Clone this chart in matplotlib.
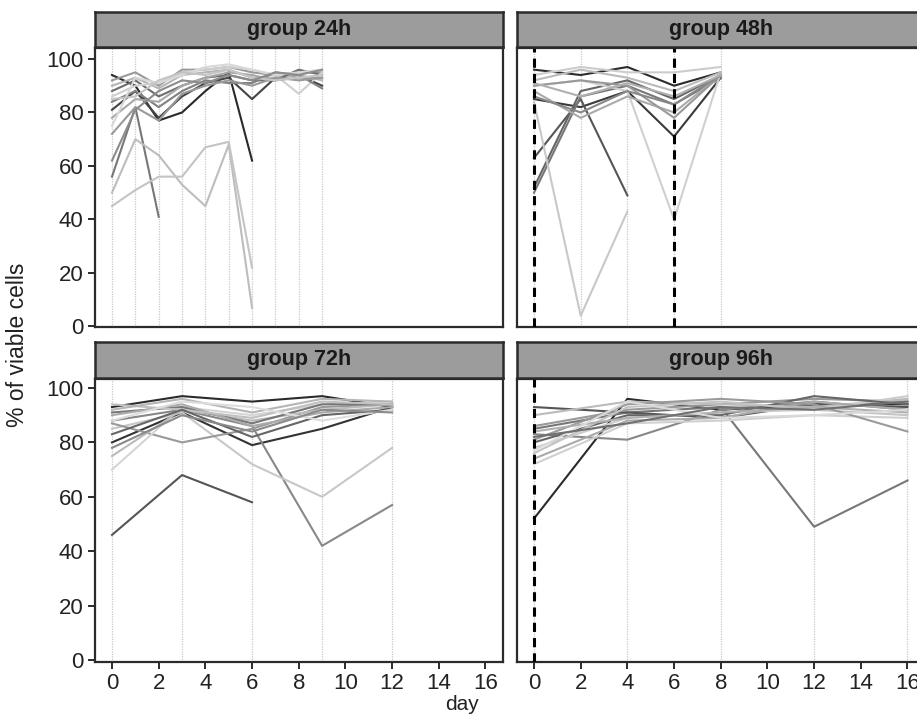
import matplotlib
matplotlib.use("Agg")
import matplotlib.pyplot as plt

plt.rcParams['font.family'] = ['Liberation Sans', 'DejaVu Sans']

# ---------------------------------------------------------------------------
# Data
# ---------------------------------------------------------------------------
panel_titles = ["group 24h", "group 48h", "group 72h", "group 96h"]

days_24h = [0, 1, 2, 3, 4, 5, 6, 7, 8, 9]
days_48h = [0, 2, 4, 6, 8]
days_72h = [0, 3, 6, 9, 12]
days_96h = [0, 4, 8, 12, 16]

viab_24h = [
    [94, 90, 77, 80, 88, 95, 62],
    [81, 88, 78, 86, 91, 93, 85, 93, 94, 90],
    [56, 82, 41],
    [50, 70, 64, 53, 45, 68, 7],
    [45, 51, 56, 56, 67, 69, 22],
    [92, 95, 90, 96, 96, 97, 95, 94, 95, 95],
    [90, 93, 89, 94, 95, 96, 93, 93, 94, 92],
    [88, 92, 86, 90, 93, 94, 92, 92, 96, 94],
    [86, 90, 91, 95, 96, 97, 96, 94, 87, 95],
    [84, 88, 82, 88, 92, 91, 91, 95, 94, 89],
    [78, 85, 84, 90, 93, 95, 94, 92, 93, 93],
    [75, 93, 91, 94, 97, 98, 96, 94, 95, 96],
    [72, 82, 77, 87, 90, 92, 90, 93, 92, 93],
    [85, 86, 92, 95, 94, 96, 93, 92, 93, 94],
    [62, 81, 88, 92, 91, 94, 92, 95, 94, 96],
]
shade_24h = ["#2a2a2a", "#444444", "#777777", "#bdbdbd", "#c4c4c4", "#9a9a9a",
             "#b5b5b5", "#6e6e6e", "#cfcfcf", "#808080", "#a8a8a8", "#d8d8d8",
             "#999999", "#c4c4c4", "#8c8c8c"]

viab_48h = [
    [96, 94, 97, 90, 95],
    [85, 82, 88, 71, 93],
    [63, 85, 49],
    [52, 88, 92, 85, 94],
    [50, 86, 90, 83, 93],
    [84, 4, 43],
    [90, 92, 88, 40, 95],
    [88, 78, 86, 80, 94],
    [92, 96, 93, 88, 95],
    [90, 92, 90, 78, 94],
    [94, 97, 95, 95, 97],
    [86, 80, 88, 83, 94],
    [91, 86, 91, 86, 94],
]
shade_48h = ["#2b2b2b", "#3a3a3a", "#555555", "#666666", "#777777", "#c8c8c8",
             "#d0d0d0", "#aaaaaa", "#bbbbbb", "#999999", "#cccccc", "#888888",
             "#b0b0b0"]

viab_72h = [
    [93, 97, 95, 97, 93],
    [80, 91, 79, 85, 93],
    [46, 68, 58],
    [88, 92, 86, 42, 57],
    [85, 91, 72, 60, 78],
    [87, 80, 85, 93, 94],
    [70, 93, 90, 94, 95],
    [75, 92, 88, 92, 94],
    [91, 93, 87, 94, 94],
    [90, 94, 86, 91, 93],
    [94, 92, 89, 95, 94],
    [83, 92, 82, 90, 92],
    [92, 96, 91, 96, 95],
    [88, 95, 93, 88, 92],
    [78, 90, 84, 92, 91],
]
shade_72h = ["#2b2b2b", "#333333", "#555555", "#888888", "#c8c8c8", "#999999",
             "#d5d5d5", "#bbbbbb", "#777777", "#aaaaaa", "#c0c0c0", "#666666",
             "#b5b5b5", "#dddddd", "#8a8a8a"]

viab_96h = [
    [52, 96, 92, 94, 94],
    [85, 91, 93, 49, 66],
    [93, 91, 89, 94, 93],
    [83, 81, 92, 95, 92],
    [86, 92, 94, 96, 95],
    [90, 95, 94, 93, 96],
    [78, 89, 91, 92, 97],
    [74, 88, 89, 95, 92],
    [72, 87, 88, 90, 89],
    [80, 90, 90, 97, 94],
    [76, 93, 95, 92, 90],
    [81, 94, 96, 94, 84],
    [84, 89, 91, 93, 91],
    [77, 95, 89, 90, 92],
    [82, 87, 93, 92, 95],
]
shade_96h = ["#2b2b2b", "#777777", "#555555", "#888888", "#999999", "#bbbbbb",
             "#cccccc", "#aaaaaa", "#d0d0d0", "#666666", "#c4c4c4", "#9a9a9a",
             "#b0b0b0", "#dadada", "#707070"]

# treatment days drawn as dashed black lines
marks_48h = [0, 6]
marks_96h = [0]

x_ticks = [0, 2, 4, 6, 8, 10, 12, 14, 16]
y_ticks = [0, 20, 40, 60, 80, 100]

# ---------------------------------------------------------------------------
# Layout (pixel based, 917 x 720)
# ---------------------------------------------------------------------------
W, H = 917, 720
fig = plt.figure(figsize=(W / 100, H / 100), dpi=100)

col_left = [94.5, 516.5]
col_width = 408.5
rows = [  # (axes top, axes bottom, strip top, ylim)
    (48, 327, 12, (-0.2, 104.1)),
    (379, 662, 342, (-0.7, 103.3)),
]

panels = [
    (days_24h, viab_24h, shade_24h, []),
    (days_48h, viab_48h, shade_48h, marks_48h),
    (days_72h, viab_72h, shade_72h, []),
    (days_96h, viab_96h, shade_96h, marks_96h),
]

SPINE = "#2b2b2b"

for i, (days, series, shades, marks) in enumerate(panels):
    r, c = divmod(i, 2)
    top, bottom, strip_top, ylim = rows[r]
    left = col_left[c]
    ax = fig.add_axes([left / W, 1 - bottom / H, col_width / W, (bottom - top) / H])
    ax.set_xlim(-0.75, 16.75)
    ax.set_ylim(*ylim)

    for d in days:
        ax.axvline(d, color="#c8c8c8", lw=0.9, ls=(0, (1, 1)), zorder=1)
    for vals, col in zip(series, shades):
        ax.plot(days[:len(vals)], vals, color=col, lw=1.5, zorder=2)
    for d in marks:
        ax.axvline(d, color="black", lw=2.2, ls=(0, (3, 2)), zorder=3)

    for s in ax.spines.values():
        s.set_color(SPINE)
        s.set_linewidth(1.6)

    ax.set_xticks(x_ticks)
    ax.set_yticks(y_ticks)
    ax.tick_params(axis="both", color=SPINE, width=1.4, length=5,
                   labelsize=16, labelcolor="#222222", pad=3)
    if r == 0:
        ax.tick_params(axis="x", length=0, labelbottom=False)
    if c == 1:
        ax.tick_params(axis="y", length=0, labelleft=False)

    # facet strip
    sax = fig.add_axes([left / W, 1 - (top - 1) / H, col_width / W,
                        (top - 1 - strip_top) / H])
    sax.set_facecolor("#9c9c9c")
    sax.set_xticks([])
    sax.set_yticks([])
    for s in sax.spines.values():
        s.set_color(SPINE)
        s.set_linewidth(1.8)
    sax.text(0.5, 0.5, panel_titles[i], ha="center", va="center",
             fontsize=15.5, fontweight="bold", color="#1a1a1a",
             transform=sax.transAxes)

fig.text(18 / W, 1 - 345 / H, "% of viable cells", rotation=90,
         ha="center", va="center", fontsize=16.5, color="#222222")
fig.text(462 / W, 1 - 704 / H, "day", ha="center", va="center",
         fontsize=15, color="#222222")

fig.savefig("out.png", dpi=100)
